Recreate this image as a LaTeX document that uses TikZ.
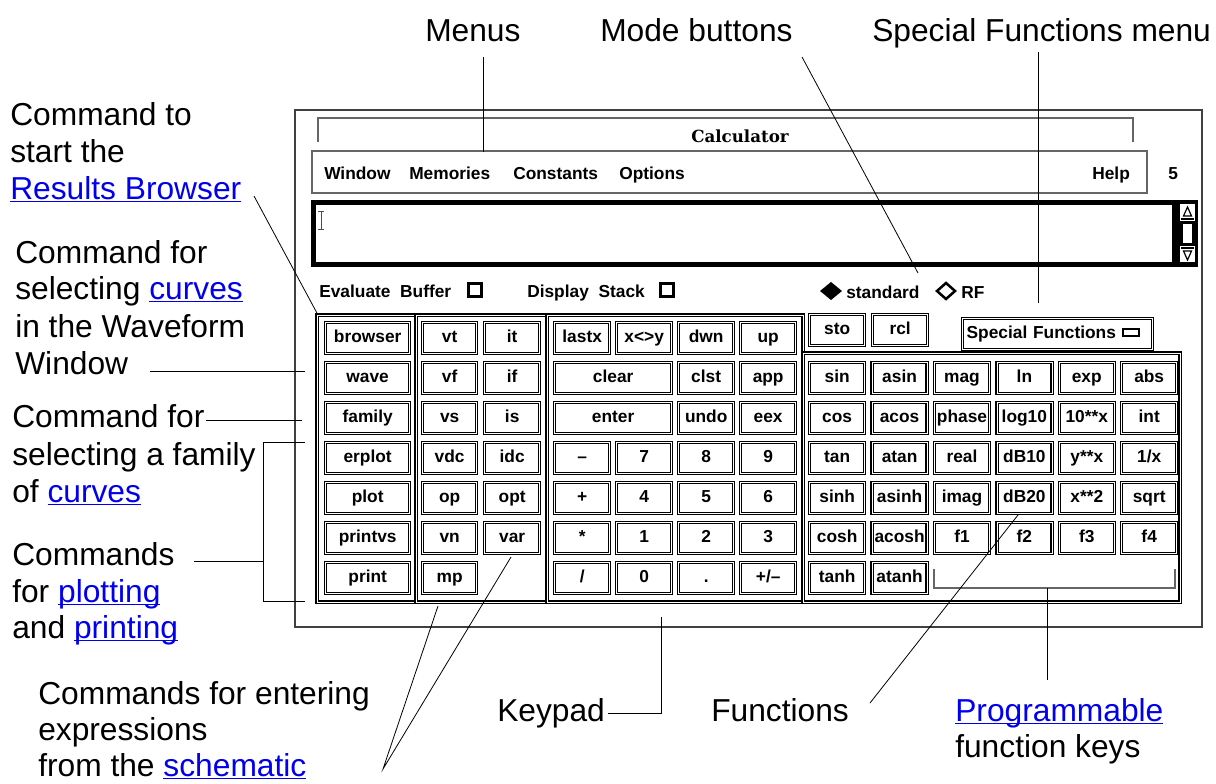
\documentclass[tikz,border=0pt]{standalone}
\usepackage{fontspec}
\setmainfont{Liberation Sans}
\newfontfamily\calcf{Liberation Sans}
\newfontfamily\titlef{DejaVu Serif}
\definecolor{linkblue}{RGB}{0,0,238}
\newcommand\lnk[1]{\textcolor{linkblue}{\setbox0\hbox{#1}\rlap{\rule[-2.4pt]{\wd0}{0.8pt}}\box0}}
\tikzset{
  lbl/.style={font=\fontsize{23.8}{27.75}\selectfont, inner sep=0pt, anchor=base west},
  calctext/.style={font=\calcf\bfseries\fontsize{13}{15}\selectfont, inner sep=0pt},
  btn/.style={calctext, draw=black, double=white, double distance=0.5pt, line width=1.0pt, inner sep=0.5pt, text height=9.6pt, text depth=2.8pt, anchor=north west, minimum height=23.25pt},
  panel/.style={draw=black, double=white, double distance=0.6pt, line width=0.95pt},
  conn/.style={draw=black, line width=0.6pt},
  graybr/.style={draw=black!60, line width=1.1pt},
  chk/.style={draw=black, line width=1.9pt},
}
\newcommand\kk[5]{\node[btn, minimum width=#4*0.75pt] (#1) at (#2,#3) {#5};}
\begin{document}
\begin{tikzpicture}[x=0.75pt,y=-0.75pt]
\useasboundingbox (0,0) rectangle (1216,783);

% ---------- calculator window ----------
\draw[line width=1.5pt, draw=black!75] (295,110) rectangle (1202,627);
\draw[graybr] (318,142) -- (318,118) -- (1133,118) -- (1133,142);
\node[font=\titlef\bfseries\fontsize{12.5}{14}\selectfont, inner sep=0pt] (title) at (740,136) {Calculator};
\draw[graybr] (312,151) rectangle (1147,193);
\node[calctext, anchor=base west] (mwin) at (324,179) {Window};
\node[calctext, anchor=base west] (mmem) at (409,179) {Memories};
\node[calctext, anchor=base west] (mcon) at (513,179) {Constants};
\node[calctext, anchor=base west] (mopt) at (619,179) {Options};
\node[calctext, anchor=base west] (mhelp) at (1092,179) {Help};
\node[calctext, anchor=base west] (mfive) at (1168,179) {5};

% text buffer
\draw[line width=3.6pt] (313.5,202.5) rectangle (1195.5,264.5);
\fill[black] (1172,200) rectangle (1198,267);
\fill[white] (1180,204) rectangle (1195,221);
\draw[line width=0.9pt] (1183.5,216) -- (1187.5,207) -- (1191.5,216) -- cycle;
\draw[line width=0.9pt] (1181,219) -- (1194,219);
\fill[white] (1183,224) rectangle (1192,243);
\fill[white] (1180,246) rectangle (1195,262);
\draw[line width=0.9pt] (1183.5,251) -- (1187.5,260) -- (1191.5,251) -- cycle;
\draw[line width=0.9pt] (1181,248) -- (1194,248);
\draw[black!70, line width=0.7pt] (321,211) -- (321,229) (318,211) -- (324,211) (318,229) -- (324,229);

% options line
\node[calctext, anchor=base west] (evb) at (319,297) {Evaluate\ \ Buffer};
\draw[chk] (468.5,283.5) rectangle (481.5,296.5);
\node[calctext, anchor=base west] (dst) at (527,297) {Display\ \ Stack};
\draw[chk] (660.5,283.5) rectangle (673.5,296.5);
\fill (820,291) -- (831,282) -- (842,291) -- (831,300) -- cycle;
\node[calctext, anchor=base west] (std) at (846,298) {standard};
\draw[chk, line join=miter] (937,291) -- (946,283) -- (955,291) -- (946,299) -- cycle;
\node[calctext, anchor=base west] (rf) at (961,298) {RF};

% panels
\draw[panel] (317,315) rectangle (416,602);
\draw[panel] (416,315) rectangle (547,602);
\draw[panel] (547,315) rectangle (803,602);
\draw[panel] (803,353) rectangle (1180,602);

% left command keys
\foreach \t [count=\i from 0] in {browser,wave,family,erplot,plot,printvs,print}
  {\kk{a\i}{325}{322+40*\i}{84}{\t}}
\foreach \t [count=\i from 0] in {vt,vf,vs,vdc,op,vn,mp}
  {\kk{v\i}{422}{322+40*\i}{54}{\t}}
\foreach \t [count=\i from 0] in {it,if,is,idc,opt,var}
  {\kk{c\i}{484}{322+40*\i}{55}{\t}}

% keypad
\kk{k00}{554}{322}{55}{lastx}
\kk{k01}{616}{322}{55}{x<>y}
\kk{k02}{678}{322}{55}{dwn}
\kk{k03}{740}{322}{55}{up}
\kk{k10}{554}{362}{117}{clear}
\kk{k12}{678}{362}{55}{clst}
\kk{k13}{740}{362}{55}{app}
\kk{k20}{554}{402}{117}{enter}
\kk{k22}{678}{402}{55}{undo}
\kk{k23}{740}{402}{55}{eex}
\kk{k30}{554}{442}{55}{–}
\kk{k31}{616}{442}{55}{7}
\kk{k32}{678}{442}{55}{8}
\kk{k33}{740}{442}{55}{9}
\kk{k40}{554}{482}{55}{+}
\kk{k41}{616}{482}{55}{4}
\kk{k42}{678}{482}{55}{5}
\kk{k43}{740}{482}{55}{6}
\kk{k50}{554}{522}{55}{*}
\kk{k51}{616}{522}{55}{1}
\kk{k52}{678}{522}{55}{2}
\kk{k53}{740}{522}{55}{3}
\kk{k60}{554}{562}{55}{/}
\kk{k61}{616}{562}{55}{0}
\kk{k62}{678}{562}{55}{.}
\kk{k63}{740}{562}{55}{+/–}

% memory and special functions
\kk{sto}{809}{314}{55}{sto}
\kk{rcl}{872}{314}{55}{rcl}
\node[btn, minimum width=142.5pt, text width=136.5pt, align=left, inner xsep=3pt] (spf) at (962,318) {Special Functions};
\draw[line width=1.8pt] (1123,329) rectangle (1139,336);

% function keys
\foreach \t [count=\i from 0] in {sin,asin,mag,ln,exp,abs}
  {\kk{f1\i}{809+62.4*\i}{362}{55}{\t}}
\foreach \t [count=\i from 0] in {cos,acos,phase,log10,10**x,int}
  {\kk{f2\i}{809+62.4*\i}{402}{55}{\t}}
\foreach \t [count=\i from 0] in {tan,atan,real,dB10,y**x,1/x}
  {\kk{f3\i}{809+62.4*\i}{442}{55}{\t}}
\foreach \t [count=\i from 0] in {sinh,asinh,imag,dB20,x**2,sqrt}
  {\kk{f4\i}{809+62.4*\i}{482}{55}{\t}}
\foreach \t [count=\i from 0] in {cosh,acosh,f1,f2,f3,f4}
  {\kk{f5\i}{809+62.4*\i}{522}{55}{\t}}
\kk{f60}{809}{562}{55}{tanh}
\kk{f61}{871.4}{562}{55}{atanh}
\draw[graybr, line width=0.8pt] (934,569) -- (934,588) -- (1175,588) -- (1175,569);

% ---------- labels ----------
\node[lbl] (menus) at (425,41) {Menus};
\node[lbl] (mode) at (600,41) {Mode buttons};
\node[lbl] (spec) at (872,41) {Special Functions menu};

\node[lbl] (ca1) at (10,125) {Command to};
\node[lbl] (ca2) at (10,162) {start the};
\node[lbl] (ca3) at (10,199) {\lnk{Results Browser}};
\node[lbl] (cb1) at (15,263) {Command for};
\node[lbl] (cb2) at (15,299) {selecting \lnk{curves}};
\node[lbl] (cb3) at (15,337) {in the Waveform};
\node[lbl] (cb4) at (15,374) {Window};
\node[lbl] (cc1) at (12,427) {Command for};
\node[lbl] (cc2) at (12,465) {selecting a family};
\node[lbl] (cc3) at (12,502) {of \lnk{curves}};
\node[lbl] (cd1) at (12,565) {Commands};
\node[lbl] (cd2) at (12,602) {for \lnk{plotting}};
\node[lbl] (cd3) at (12,638) {and \lnk{printing}};

\node[lbl] (ce1) at (38,704) {Commands for entering};
\node[lbl] (ce2) at (38,740) {expressions};
\node[lbl] (ce3) at (38,776) {from the \lnk{schematic}};
\node[lbl] (kp) at (497,721) {Keypad};
\node[lbl] (fn) at (711,721) {Functions};
\node[lbl] (pg1) at (955,721) {\lnk{Programmable}};
\node[lbl] (pg2) at (955,757) {function keys};

% ---------- connectors ----------
\coordinate (pMenuA) at (483,57);   \coordinate (pMenuB) at (483,152);
\coordinate (pModeA) at (802,57);   \coordinate (pModeB) at (918,273);
\coordinate (pSpecA) at (1038,52);  \coordinate (pSpecB) at (1038,303);
\coordinate (pResA) at (254,196);   \coordinate (pResB) at (318,315);
\coordinate (pWinA) at (150,371);   \coordinate (pWinB) at (305,371);
\coordinate (pFamA) at (206,420);   \coordinate (pFamB) at (302,420);
\coordinate (pPlA) at (194,561);    \coordinate (pPlM) at (263,561);
\coordinate (pPlT) at (305,442);    \coordinate (pPlB) at (305,601);
\coordinate (pSchA) at (383,769);   \coordinate (pSchB) at (438,606); \coordinate (pSchC) at (511,557);
\coordinate (pKpA) at (608,713);    \coordinate (pKpB) at (661,617);
\coordinate (pFnA) at (870,703);    \coordinate (pFnB) at (1018,515);
\coordinate (pPgA) at (1047,680);   \coordinate (pPgB) at (1047,588);

\draw[conn] (pMenuA) -- (pMenuB);
\draw[conn] (pModeA) -- (pModeB);
\draw[conn] (pSpecA) -- (pSpecB);
\draw[conn] (pResA) -- (pResB);
\draw[conn] (pWinA) -- (pWinB);
\draw[conn] (pFamA) -- (pFamB);
\draw[conn] (pPlA) -- (pPlM);
\draw[conn] (pPlT) -- (pPlT -| pPlM) -- (pPlB -| pPlM) -- (pPlB);
\draw[conn] (pSchB) -- (pSchA) -- (pSchC);
\draw[conn] (pKpA) -- (pKpA -| pKpB) -- (pKpB);
\draw[conn] (pFnA) -- (pFnB);
\draw[conn] (pPgA) -- (pPgB);
\end{tikzpicture}
\end{document}
